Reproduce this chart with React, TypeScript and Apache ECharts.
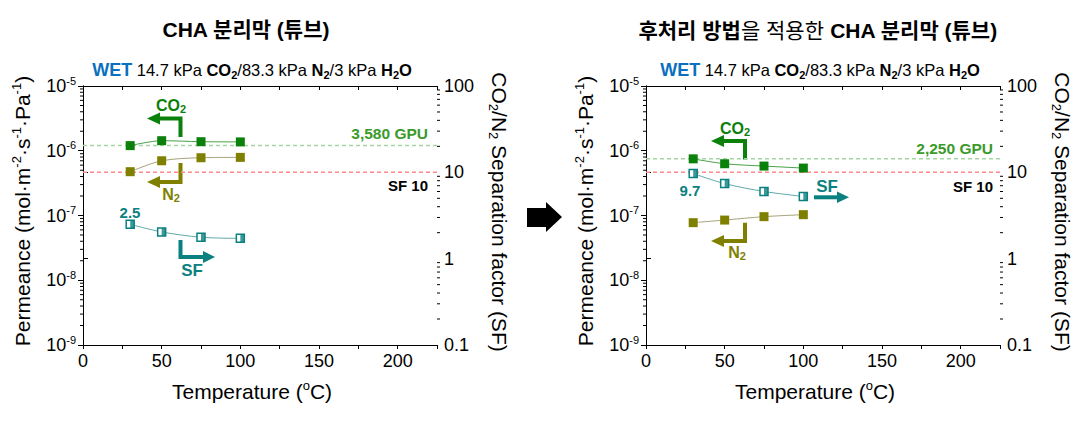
import React, { useEffect, useRef } from 'react';
import * as echarts from 'echarts';

// ---------- data ----------
const temperatures = [30, 50, 75, 100];
// CHA membrane (tube)
const co2Tube = [1.2e-6, 1.43e-6, 1.38e-6, 1.37e-6];
const n2Tube = [4.75e-7, 7.0e-7, 7.8e-7, 7.9e-7];
const sfTube = [2.5, 2.04, 1.77, 1.72];
// post-treated CHA membrane (tube)
const co2Treated = [7.5e-7, 6.3e-7, 5.8e-7, 5.4e-7];
const n2Treated = [7.75e-8, 8.5e-8, 9.6e-8, 1.03e-7];
const sfTreated = [9.7, 7.4, 6.0, 5.25];
// reference lines
const gpuLineTube = 1.2e-6; // 3,580 GPU
const gpuLineTreated = 7.5e-7; // 2,250 GPU
const sfTarget = 10;
// ticks
const tempMin = 0;
const tempMax = 225;
const tempStep = 25;
const tempLabelStep = 50;
const permMin = 1e-9;
const permMax = 1e-5;
const sfMin = 0.1;
const sfMax = 100;
const minorMultiples = [2, 3, 4, 5, 6, 7, 8, 9];
const permDecades = [-9, -8, -7, -6];
const sfDecades = [-1, 0, 1];

// ---------- styles ----------
const FONT = "'Liberation Sans', Arial, 'Noto Sans CJK KR', sans-serif";
const GREEN = '#0b800b';
const OLIVE = '#808000';
const TEAL = '#0a8080';

const permMinorValues = permDecades.flatMap((d) => minorMultiples.map((m) => m * Math.pow(10, d)));
const sfMinorValues = sfDecades.flatMap((d) => minorMultiples.map((m) => m * Math.pow(10, d)));

const axisLine = { show: true, lineStyle: { color: '#000', width: 1 } };

function xAxes(grid: number) {
  return [
    {
      gridIndex: grid,
      type: 'value',
      min: tempMin,
      max: tempMax,
      interval: tempStep,
      position: 'bottom',
      axisLine,
      axisTick: { show: true, inside: false, length: 4, lineStyle: { color: '#000' } },
      axisLabel: {
        formatter: (v: number) => (v % tempLabelStep === 0 && v <= 200 ? String(v) : ''),
        color: '#000',
        fontSize: 18,
        fontFamily: FONT,
        margin: 7,
      },
      splitLine: { show: false },
    },
    {
      gridIndex: grid,
      type: 'value',
      min: tempMin,
      max: tempMax,
      interval: tempStep,
      position: 'top',
      axisLine,
      axisTick: { show: true, inside: true, length: 4, lineStyle: { color: '#000' } },
      axisLabel: { show: false },
      splitLine: { show: false },
    },
  ];
}

function yAxes(grid: number) {
  return [
    {
      gridIndex: grid,
      type: 'log',
      logBase: 10,
      min: permMin,
      max: permMax,
      position: 'left',
      axisLine,
      axisTick: { show: true, inside: false, length: 5, lineStyle: { color: '#000' } },
      axisLabel: {
        formatter: (v: number) => '{b|10}{sup|' + Math.round(Math.log10(v)) + '}',
        color: '#000',
        fontSize: 18,
        fontFamily: FONT,
        margin: 7,
        rich: {
          b: { fontSize: 18, fontFamily: FONT, color: '#000', lineHeight: 22 },
          sup: { fontSize: 11, fontFamily: FONT, color: '#000', verticalAlign: 'top', lineHeight: 11 },
        },
      },
      splitLine: { show: false },
    },
    {
      gridIndex: grid,
      type: 'log',
      logBase: 10,
      min: sfMin,
      max: sfMax,
      position: 'right',
      axisLine,
      axisTick: { show: true, inside: false, length: 5, lineStyle: { color: '#000' } },
      axisLabel: {
        formatter: (v: number) => (v < 0.5 ? '0.1' : String(Math.round(v))),
        color: '#000',
        fontSize: 18,
        fontFamily: FONT,
        margin: 7,
      },
      splitLine: { show: false },
    },
  ];
}

function minorTicks(xIdx: number, yIdx: number, xVal: number, values: number[], dir: number) {
  return {
    type: 'custom',
    xAxisIndex: xIdx,
    yAxisIndex: yIdx,
    silent: true,
    clip: false,
    z: 1,
    data: values.map((v) => [xVal, v]),
    renderItem: (_p: any, api: any) => {
      const p = api.coord([api.value(0), api.value(1)]);
      return {
        type: 'line',
        shape: { x1: p[0], y1: p[1], x2: p[0] + dir * 3, y2: p[1] },
        style: { stroke: '#000', lineWidth: 1 },
      };
    },
  };
}

function refLine(xIdx: number, yIdx: number, value: number, color: string) {
  return {
    type: 'line',
    xAxisIndex: xIdx,
    yAxisIndex: yIdx,
    silent: true,
    z: 1,
    symbol: 'none',
    data: [
      [tempMin, value],
      [tempMax, value],
    ],
    lineStyle: { type: [4, 3], color, width: 1.5 },
  };
}

function gridSeries(xIdx: number, yL: number, yR: number, co2: number[], n2: number[], sf: number[], gpu: number) {
  const pts = (arr: number[]) => temperatures.map((t, i) => [t, arr[i]]);
  return [
    refLine(xIdx, yL, gpu, '#a3d6a3'),
    refLine(xIdx, yR, sfTarget, '#ff8c8c'),
    {
      type: 'line',
      xAxisIndex: xIdx,
      yAxisIndex: yL,
      data: pts(co2),
      symbol: 'rect',
      symbolSize: 9,
      smooth: 0.3,
      z: 3,
      itemStyle: { color: GREEN },
      lineStyle: { color: GREEN, width: 1, opacity: 0.75 },
    },
    {
      type: 'line',
      xAxisIndex: xIdx,
      yAxisIndex: yL,
      data: pts(n2),
      symbol: 'rect',
      symbolSize: 9,
      smooth: 0.3,
      z: 3,
      itemStyle: { color: OLIVE },
      lineStyle: { color: '#a6a27a', width: 1 },
    },
    {
      type: 'line',
      xAxisIndex: xIdx,
      yAxisIndex: yR,
      data: pts(sf),
      symbol: 'rect',
      symbolSize: 8,
      smooth: 0.3,
      z: 3,
      itemStyle: { color: '#fff', borderColor: TEAL, borderWidth: 1.5 },
      lineStyle: { color: '#5fa8a8', width: 1 },
    },
    {
      type: 'scatter',
      xAxisIndex: xIdx,
      yAxisIndex: yR,
      data: pts(sf),
      symbol: 'rect',
      symbolSize: [4, 8],
      symbolOffset: [2, 0],
      z: 4,
      silent: true,
      itemStyle: { color: TEAL },
    },
  ];
}

// ---------- annotation helpers ----------
function txt(x: number, y: number, text: string, rich: any, align = 'center', rotation = 0) {
  return {
    type: 'text',
    x,
    y,
    rotation,
    silent: true,
    style: { text, rich, align, verticalAlign: 'middle', x: 0, y: 0 },
  };
}

function r(fontSize: number, fill: string, fontWeight: any = 'normal', va: any = undefined, lineHeight?: number) {
  const s: any = { fontSize, fill, fontWeight, fontFamily: FONT };
  if (va) s.verticalAlign = va;
  if (lineHeight) s.lineHeight = lineHeight;
  return s;
}

function elbowArrow(points: number[][], head: number[][], color: string) {
  return [
    {
      type: 'polyline',
      silent: true,
      shape: { points },
      style: { stroke: color, lineWidth: 4, fill: 'none', lineJoin: 'miter' },
    },
    {
      type: 'polygon',
      silent: true,
      shape: { points: head },
      style: { fill: color },
    },
  ];
}

function subtitle(x: number) {
  return txt(
    x,
    70,
    '{w|WET}{r| 14.7 kPa }{b|CO}{bs|2}{r|/83.3 kPa }{b|N}{bs|2}{r|/3 kPa }{b|H}{bs|2}{b|O}',
    {
      w: r(18, '#0a70c0', 'bold', undefined, 20),
      r: r(16.5, '#000', 'normal', undefined, 20),
      b: r(16.5, '#000', 'bold', undefined, 20),
      bs: r(11, '#000', 'bold', 'bottom', 9),
    }
  );
}

function axisTitles(dx: number) {
  return [
    txt(252 + dx, 391, '{n|Temperature (}{s|o}{n|C)}', {
      n: r(21, '#000', 'normal', undefined, 24),
      s: r(13, '#000', 'normal', 'top', 13),
    }),
    txt(
      22 + dx,
      211,
      '{n|Permeance (mol·m}{s|-2}{n|·s}{s|-1}{n|·Pa}{s|-1}{n|)}',
      { n: r(21, '#000', 'normal', undefined, 24), s: r(13, '#000', 'normal', 'top', 13) },
      'center',
      Math.PI / 2
    ),
    txt(
      499 + dx,
      212,
      '{n|CO}{s|2}{n|/N}{s|2}{n| Separation factor (SF)}',
      { n: r(21, '#000', 'normal', undefined, 24), s: r(13, '#000', 'normal', 'bottom', 13) },
      'center',
      -Math.PI / 2
    ),
  ];
}

export default function App() {
  const ref = useRef<HTMLDivElement>(null);

  useEffect(() => {
    document.body.style.margin = '0';
    if (!ref.current) return;
    const chart = echarts.init(ref.current, undefined, { renderer: 'svg' });

    const labelRich = (c: string, size = 16) => ({
      b: r(size, c, 'bold', undefined, size + 3),
      s: r(11, c, 'bold', 'bottom', 9),
    });

    const graphic: any[] = [
      // titles
      txt(246, 29, '{b|CHA 분리막 (튜브)}', { b: r(21, '#000', 'bold') }),
      txt(818, 30, '{b|후처리 방법}{n|을 적용한 }{b|CHA 분리막 (튜브)}', {
        b: r(21, '#000', 'bold'),
        n: r(21, '#000', 'normal'),
      }),
      subtitle(252),
      subtitle(820),
      ...axisTitles(0),
      ...axisTitles(563),
      // big arrow between panels
      {
        type: 'polygon',
        silent: true,
        shape: {
          points: [
            [527, 208],
            [546, 208],
            [546, 202],
            [562, 217],
            [546, 232],
            [546, 227],
            [527, 227],
          ],
        },
        style: { fill: '#000' },
      },
      // ---- left panel annotations ----
      txt(171, 105, '{b|CO}{s|2}', labelRich(GREEN)),
      ...elbowArrow([[180.5, 137], [180.5, 118.5], [158, 118.5]], [[160, 112.5], [160, 124.5], [147, 118.5]], GREEN),
      txt(171, 194, '{b|N}{s|2}', labelRich(OLIVE)),
      ...elbowArrow([[180.5, 163], [180.5, 182], [158, 182]], [[160, 176], [160, 188], [147, 182]], OLIVE),
      txt(130, 212, '{b|2.5}', labelRich(TEAL, 15)),
      ...elbowArrow([[180.5, 240], [180.5, 257], [205, 257]], [[203, 251], [203, 263], [215, 257]], TEAL),
      txt(192, 270, '{b|SF}', labelRich(TEAL, 17)),
      txt(428, 133, '{b|3,580 GPU}', { b: r(15.5, '#3a9a2a', 'bold') }, 'right'),
      txt(428, 185, '{b|SF 10}', { b: r(15, '#000', 'bold') }, 'right'),
      // ---- right panel annotations ----
      txt(735, 128, '{b|CO}{s|2}', labelRich(GREEN)),
      ...elbowArrow([[745, 159.5], [745, 141], [722, 141]], [[724, 135], [724, 147], [711, 141]], GREEN),
      txt(690, 190, '{b|9.7}', labelRich(TEAL, 15)),
      txt(827, 186, '{b|SF}', labelRich(TEAL, 17)),
      ...elbowArrow([[814, 197.3], [838, 197.3]], [[837, 191.5], [837, 203], [849, 197.3]], TEAL),
      txt(737, 252, '{b|N}{s|2}', labelRich(OLIVE)),
      ...elbowArrow([[745, 222.7], [745, 241], [722, 241]], [[724, 235], [724, 247], [711, 241]], OLIVE),
      txt(993, 148, '{b|2,250 GPU}', { b: r(15.5, '#3a9a2a', 'bold') }, 'right'),
      txt(993, 186, '{b|SF 10}', { b: r(15, '#000', 'bold') }, 'right'),
    ];

    chart.setOption({
      animation: false,
      backgroundColor: '#fff',
      textStyle: { fontFamily: FONT },
      grid: [
        { left: 83, top: 86, width: 354, height: 259, containLabel: false },
        { left: 646, top: 86, width: 354, height: 259, containLabel: false },
      ],
      xAxis: [...xAxes(0), ...xAxes(1)],
      yAxis: [...yAxes(0), ...yAxes(1)],
      series: [
        ...gridSeries(0, 0, 1, co2Tube, n2Tube, sfTube, gpuLineTube),
        ...gridSeries(2, 2, 3, co2Treated, n2Treated, sfTreated, gpuLineTreated),
        minorTicks(0, 0, tempMin, permMinorValues, -1),
        minorTicks(0, 1, tempMax, sfMinorValues, 1),
        minorTicks(2, 2, tempMin, permMinorValues, -1),
        minorTicks(2, 3, tempMax, sfMinorValues, 1),
      ],
      graphic,
    });

    return () => chart.dispose();
  }, []);

  return <div ref={ref} style={{ width: 1088, height: 428 }} />;
}
